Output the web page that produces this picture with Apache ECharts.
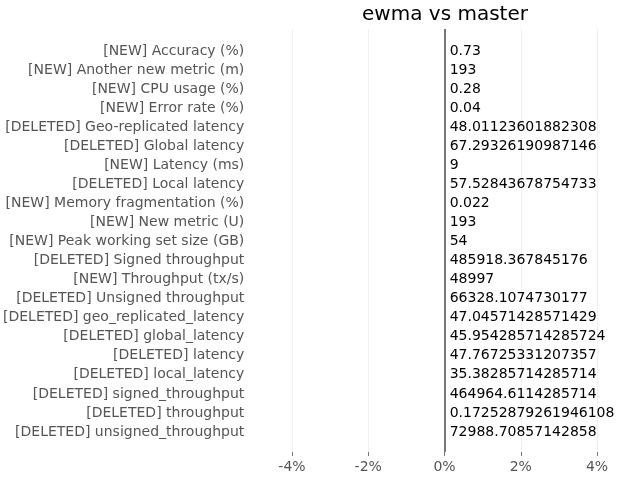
<!DOCTYPE html>
<html><head><meta charset="utf-8">
<script src="https://cdn.jsdelivr.net/npm/echarts@6/dist/echarts.min.js"></script>
<style>html,body{margin:0;padding:0;background:#fff}#c{width:640px;height:480px}</style>
</head><body><div id="c"></div>
<script>
const title = "ewma vs master";
const categories = [
"[NEW] Accuracy (%)",
"[NEW] Another new metric (m)",
"[NEW] CPU usage (%)",
"[NEW] Error rate (%)",
"[DELETED] Geo-replicated latency",
"[DELETED] Global latency",
"[NEW] Latency (ms)",
"[DELETED] Local latency",
"[NEW] Memory fragmentation (%)",
"[NEW] New metric (U)",
"[NEW] Peak working set size (GB)",
"[DELETED] Signed throughput",
"[NEW] Throughput (tx/s)",
"[DELETED] Unsigned throughput",
"[DELETED] geo_replicated_latency",
"[DELETED] global_latency",
"[DELETED] latency",
"[DELETED] local_latency",
"[DELETED] signed_throughput",
"[DELETED] throughput",
"[DELETED] unsigned_throughput"];
const valueLabels = ["0.73","193","0.28","0.04","48.01123601882308","67.29326190987146","9","57.52843678754733","0.022","193","54","485918.367845176","48997","66328.1074730177","47.04571428571429","45.954285714285724","47.76725331207357","35.38285714285714","464964.6114285714","0.17252879261946108","72988.70857142858"];
const changes = [0,0,0,0,0,0,0,0,0,0,0,0,0,0,0,0,0,0,0,0,0];
const xTicks = {min:-4, max:4, interval:2};

const FONT = "DejaVu Sans";
const chart = echarts.init(document.getElementById('c'), null, {renderer:'canvas'});
chart.setOption({
  animation:false,
  backgroundColor:'#fff',
  title:{text:title, left:440, top:0, textAlign:'center',
    textStyle:{fontFamily:FONT, fontSize:20, fontWeight:'normal', color:'#000'}},
  grid:[
    {left:292, right:43, top:29, height:423},
    {left:292, right:43, top:41.5, height:400}
  ],
  xAxis:[
    {gridIndex:0, type:'value', min:xTicks.min, max:xTicks.max, interval:xTicks.interval,
     axisLine:{show:false}, axisTick:{show:true, length:4, lineStyle:{color:'#777'}},
     axisLabel:{formatter:'{value}%', color:'#555', fontFamily:FONT, fontSize:14, margin:8},
     splitLine:{show:true, lineStyle:{color:'#f0f0f0', width:1}}},
    {gridIndex:1, type:'value', min:xTicks.min, max:xTicks.max, interval:xTicks.interval, show:false}
  ],
  yAxis:[
    {gridIndex:0, type:'value', min:0, max:1, show:false},
    {gridIndex:1, type:'category', data:categories, inverse:true,
     axisLine:{show:false}, axisTick:{show:false}, splitLine:{show:false},
     axisLabel:{color:'#555', fontFamily:FONT, fontSize:14, margin:48}}
  ],
  series:[
    {type:'line', xAxisIndex:0, yAxisIndex:0, data:[], silent:true,
     markLine:{symbol:'none', silent:true, label:{show:false},
       lineStyle:{color:'#777', width:2, type:'solid'}, data:[{xAxis:0}]}},
    {type:'bar', xAxisIndex:1, yAxisIndex:1, data:changes, barWidth:'60%',
     itemStyle:{color:'#4c72b0'},
     label:{show:true, position:'right', distance:5, color:'#000', fontFamily:FONT, fontSize:14,
       formatter:p=>valueLabels[p.dataIndex]}}
  ]
});
</script></body></html>
